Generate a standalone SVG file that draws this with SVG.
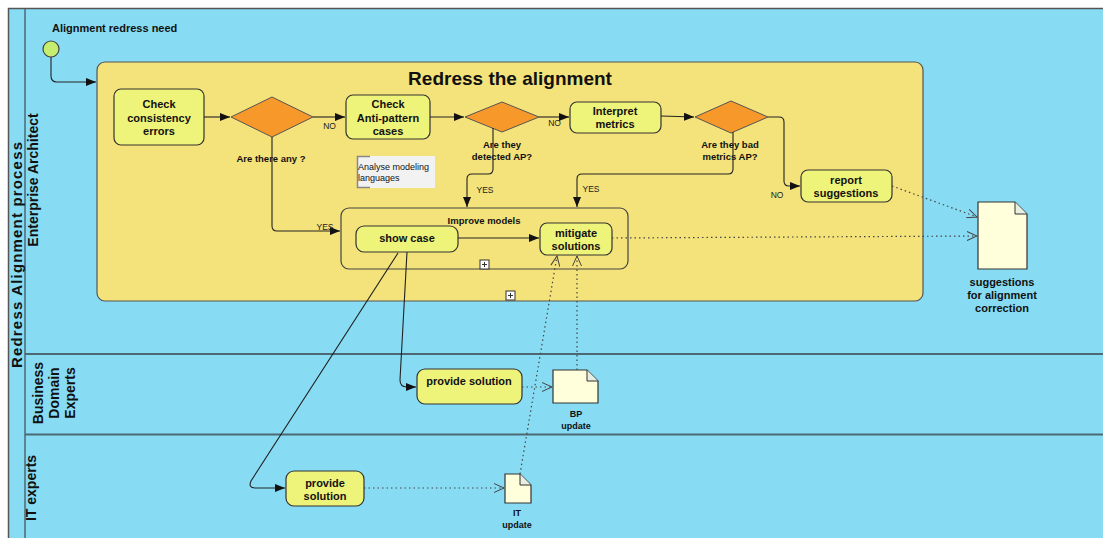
<svg xmlns="http://www.w3.org/2000/svg" width="1103" height="538" viewBox="0 0 1103 538">
<defs>
<marker id="solid" markerUnits="userSpaceOnUse" markerWidth="10" markerHeight="8" refX="10" refY="4" orient="auto">
<path d="M0,0 L10,4 L0,8 Z" fill="#111"/>
</marker>
<marker id="open" markerUnits="userSpaceOnUse" markerWidth="12" markerHeight="10" refX="11" refY="5" orient="auto">
<path d="M1,0.5 L11,5 L1,9.5" fill="none" stroke="#444" stroke-width="1"/>
</marker>
</defs>
<style>
text{font-family:"Liberation Sans",Arial,sans-serif;fill:#111}
.task{fill:#EEF37A;stroke:#333;stroke-width:1.2}
.gw{fill:#F7982B;stroke:#555;stroke-width:1}
.doc{fill:#FFFFDC;stroke:#333;stroke-width:1.2}
.t11{font-size:11px;font-weight:bold;text-anchor:middle}
.t9{font-size:9.5px;font-weight:bold;text-anchor:middle}
.t9d{font-size:9px;font-weight:bold;text-anchor:middle}
.lbl{font-size:8.5px;text-anchor:middle;fill:#222}
.flow{fill:none;stroke:#222;stroke-width:1.1}
.assoc{fill:none;stroke:#444;stroke-width:1.2;stroke-dasharray:1.5 3}
.lane{font-size:14px;font-weight:bold;text-anchor:middle}
.sep{stroke:#4d6873;stroke-width:2}
.plus{fill:#fff;stroke:#333;stroke-width:1}
</style>

<g id="pool">
<rect x="8.5" y="8.5" width="1110" height="540" fill="#87DCF4" stroke="#555" stroke-width="1.5"/>
<line x1="25" y1="9" x2="25" y2="538" stroke="#4d6873" stroke-width="1.5"/>
<line class="sep" x1="25" y1="354" x2="1103" y2="354"/>
<line class="sep" x1="25" y1="434.5" x2="1103" y2="434.5"/>
<text class="lane" transform="translate(21.5,255) rotate(-90)" style="font-size:15px" textLength="226" lengthAdjust="spacing">Redress Alignment process</text>
</g>

<g id="lane-ea">
<text class="lane" transform="translate(38,180) rotate(-90)">Enterprise Architect</text>
</g>
<g id="lane-bde">
<text class="lane" transform="translate(43,393) rotate(-90)">Business</text>
<text class="lane" transform="translate(59,393) rotate(-90)">Domain</text>
<text class="lane" transform="translate(75,393) rotate(-90)">Experts</text>
</g>
<g id="lane-it">
<text class="lane" transform="translate(36,488) rotate(-90)">IT experts</text>
</g>

<g id="subprocess-redress">
<rect x="97" y="62" width="826" height="239" rx="8" fill="#F4E27A" stroke="#555" stroke-width="1.2"/>
<text x="510" y="85" style="font-size:19px;font-weight:bold;text-anchor:middle">Redress the alignment</text>
<rect class="plus" x="506" y="291" width="9" height="9"/>
<path d="M510.5,293 V298 M508,295.5 H513" stroke="#333" stroke-width="1"/>
</g>

<g id="start">
<circle cx="51" cy="49" r="8" fill="#C5EE6E" stroke="#444" stroke-width="1.2"/>
<text x="52" y="32" style="font-size:11px;font-weight:bold">Alignment redress need</text>
</g>

<g id="task-check-consistency">
<rect class="task" x="114" y="89" width="90" height="56" rx="7"/>
<text class="t11" x="159" y="108">Check</text>
<text class="t11" x="159" y="122">consistency</text>
<text class="t11" x="159" y="135">errors</text>
</g>

<g id="gw-any">
<polygon class="gw" points="231,117 272,97 313,117 272,137"/>
<text class="t9" x="271" y="161.5">Are there any ?</text>
</g>

<g id="task-check-ap">
<rect class="task" x="346" y="95" width="84" height="44" rx="7"/>
<text class="t11" x="388" y="108">Check</text>
<text class="t11" x="388" y="122">Anti-pattern</text>
<text class="t11" x="388" y="135">cases</text>
</g>

<g id="gw-detected">
<polygon class="gw" points="465,117 502,102 539,117 502,132"/>
<text class="t9" x="502" y="147.5">Are they</text>
<text class="t9" x="502" y="159.5">detected AP?</text>
</g>

<g id="task-interpret">
<rect class="task" x="570" y="102" width="91" height="31" rx="7"/>
<text class="t11" x="615" y="115">Interpret</text>
<text class="t11" x="615" y="128">metrics</text>
</g>

<g id="gw-bad">
<polygon class="gw" points="695,117 731,101 768,117 731,133"/>
<text class="t9" x="730" y="147.5">Are they bad</text>
<text class="t9" x="730" y="159.5">metrics AP?</text>
</g>

<g id="task-report">
<rect class="task" x="801" y="170" width="91" height="32" rx="7"/>
<text class="t11" x="846" y="184">report</text>
<text class="t11" x="846" y="197">suggestions</text>
</g>

<g id="annotation">
<rect x="357" y="156" width="78" height="32" fill="#F2F2F2"/>
<path d="M370,156.5 H357.5 V187.5 H370" fill="none" stroke="#888" stroke-width="1.5"/>
<text x="358" y="170" style="font-size:9px">Analyse modeling</text>
<text x="358" y="181" style="font-size:9px">languages</text>
</g>

<g id="subprocess-improve">
<rect x="341" y="208" width="287" height="61" rx="8" fill="none" stroke="#444" stroke-width="1.2"/>
<text class="t9" x="484" y="223.5">Improve models</text>
<rect class="plus" x="480" y="260" width="9" height="9"/>
<path d="M484.5,262 V267 M482,264.5 H487" stroke="#333" stroke-width="1"/>
</g>

<g id="task-show-case">
<rect class="task" x="356" y="226" width="102" height="26" rx="8"/>
<text class="t11" x="407" y="242">show case</text>
</g>

<g id="task-mitigate">
<rect class="task" x="540" y="223" width="72" height="32" rx="7"/>
<text class="t11" x="576" y="237">mitigate</text>
<text class="t11" x="576" y="250">solutions</text>
</g>

<g id="doc-suggestions">
<path class="doc" d="M978,202 H1015 L1027,214 V269 H978 Z"/>
<path d="M1015,202 V214 H1027" fill="#E8EEE0" stroke="#333" stroke-width="1"/>
<text class="t11" x="1002" y="286">suggestions</text>
<text class="t11" x="1002" y="299">for alignment</text>
<text class="t11" x="1002" y="312">correction</text>
</g>

<g id="task-provide-bde">
<rect class="task" x="417" y="369" width="105" height="35" rx="8"/>
<text class="t11" x="469" y="385">provide solution</text>
</g>

<g id="doc-bp">
<path class="doc" d="M553,370 H587 L598,381 V403 H553 Z"/>
<path d="M587,370 V381 H598" fill="#E8EEE0" stroke="#333" stroke-width="1"/>
<text class="t9d" x="576" y="417">BP</text>
<text class="t9d" x="576" y="429">update</text>
</g>

<g id="task-provide-it">
<rect class="task" x="286" y="471" width="78" height="35" rx="8"/>
<text class="t11" x="325" y="487">provide</text>
<text class="t11" x="325" y="500">solution</text>
</g>

<g id="doc-it">
<path class="doc" d="M505,474 H520 L531,485 V503 H505 Z"/>
<path d="M520,474 V485 H531" fill="#E8EEE0" stroke="#333" stroke-width="1"/>
<text class="t9d" x="517" y="516">IT</text>
<text class="t9d" x="517" y="528">update</text>
</g>

<g id="connectors">
<path class="flow" d="M51,57 V76 Q51,82 57,82 H96" marker-end="url(#solid)"/>
<path class="flow" d="M204,117 H230" marker-end="url(#solid)"/>
<path class="flow" d="M313,117 H345" marker-end="url(#solid)"/>
<path class="flow" d="M430,117 H464" marker-end="url(#solid)"/>
<path class="flow" d="M539,117 H569" marker-end="url(#solid)"/>
<path class="flow" d="M661,116 L694,117" marker-end="url(#solid)"/>
<path class="flow" d="M768,117 H779 Q784,117 784,122 V181 Q784,186 789,186 H800" marker-end="url(#solid)"/>
<path class="flow" d="M272,137 V226 Q272,231 277,231 H340" marker-end="url(#solid)"/>
<path class="flow" d="M493,128 V169 Q493,174 488,174 H472 Q467,174 467,179 V207" marker-end="url(#solid)"/>
<path class="flow" d="M733,132 V169 Q733,174 728,174 H582 Q577,174 577,179 V207" marker-end="url(#solid)"/>
<path class="flow" d="M458,238 H539" marker-end="url(#solid)"/>
<path class="flow" d="M407,252 L400,380 Q400,387 407,387 H416" marker-end="url(#solid)"/>
<path class="flow" d="M398,253 L251,481 Q248,488 255,488 H285" marker-end="url(#solid)"/>
<path class="assoc" d="M612,238 L977,236" marker-end="url(#open)"/>
<path class="assoc" d="M892,186 L977,217" marker-end="url(#open)"/>
<path class="assoc" d="M522,387 H552" marker-end="url(#open)"/>
<path class="assoc" d="M577,370 V256" marker-end="url(#open)"/>
<path class="assoc" d="M364,488 H504" marker-end="url(#open)"/>
<path class="assoc" d="M520,474 L557,256" marker-end="url(#open)"/>
<text class="lbl" x="329.5" y="129">NO</text>
<text class="lbl" x="554.5" y="126">NO</text>
<text class="lbl" x="777" y="198">NO</text>
<text class="lbl" x="325" y="230">YES</text>
<text class="lbl" x="485" y="193">YES</text>
<text class="lbl" x="591" y="192">YES</text>
</g>
</svg>
